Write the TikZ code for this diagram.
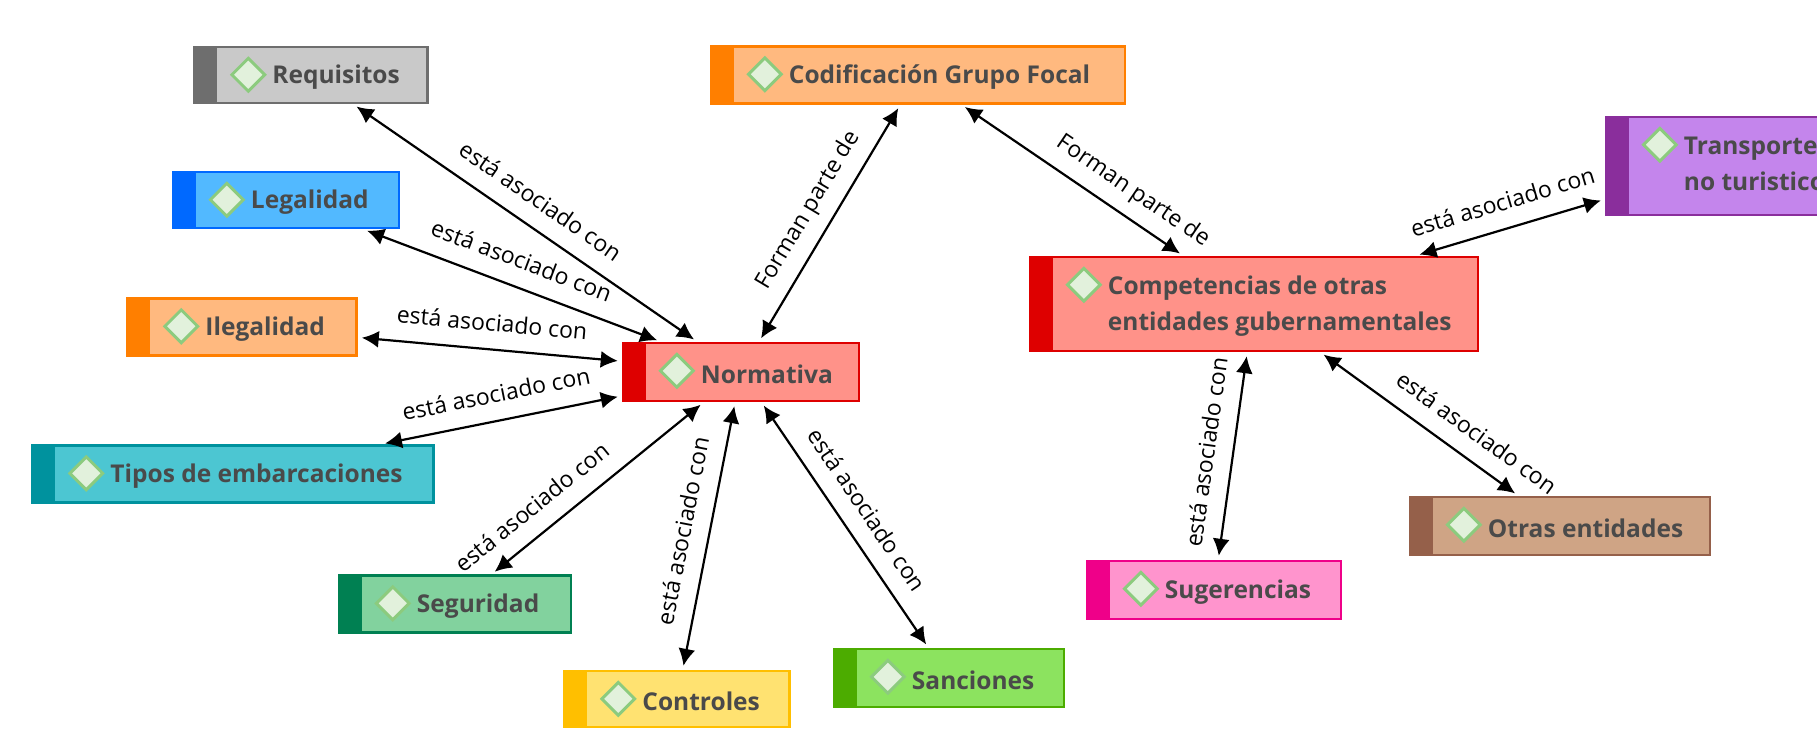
\documentclass[tikz,border=0pt]{standalone}
\usepackage{fontspec}
\setmainfont{Open Sans}
\usetikzlibrary{arrows.meta,shapes.geometric}
\definecolor{conceptgray}{HTML}{6E6E6E}  \definecolor{conceptgrayfill}{HTML}{C9C9C9}
\definecolor{conceptblue}{HTML}{0069FF}  \definecolor{conceptbluefill}{HTML}{52B9FF}
\definecolor{conceptorange}{HTML}{FF7F00} \definecolor{conceptorangefill}{HTML}{FFB97F}
\definecolor{conceptteal}{HTML}{00929E}  \definecolor{concepttealfill}{HTML}{4CC6D2}
\definecolor{conceptred}{HTML}{DE0000}   \definecolor{conceptredfill}{HTML}{FF9289}
\definecolor{conceptgreen}{HTML}{008052} \definecolor{conceptgreenfill}{HTML}{82D29E}
\definecolor{conceptyellow}{HTML}{FFBF00} \definecolor{conceptyellowfill}{HTML}{FFE271}
\definecolor{conceptlime}{HTML}{4CAC00}  \definecolor{conceptlimefill}{HTML}{8CE35F}
\definecolor{conceptpurple}{HTML}{8A2E9C} \definecolor{conceptpurplefill}{HTML}{C485EC}
\definecolor{conceptbrown}{HTML}{95604A} \definecolor{conceptbrownfill}{HTML}{CFA485}
\definecolor{conceptpink}{HTML}{EF0089}  \definecolor{conceptpinkfill}{HTML}{FF94CD}
\definecolor{conceptink}{HTML}{4A4A4A}
\definecolor{markline}{HTML}{8CCB7E}     \definecolor{markfill}{HTML}{E2F1DC}
\tikzset{
  conceptbox/.style={rectangle, line width=2.5pt, inner sep=0pt},
  conceptmark/.style={diamond, aspect=1, inner sep=0pt, minimum width=34pt, minimum height=34pt,
    draw=markline, line width=3pt, fill=markfill},
  conceptlabel/.style={inner sep=0pt, align=left, text=conceptink,
    font=\bfseries\fontsize{24.5}{36}\selectfont},
  relation/.style={<->, >={Latex[length=17pt,width=17pt]}, line width=2.2pt, shorten >=4pt, shorten <=4pt},
  relationlabel/.style={midway, above=#1, sloped, inner sep=0pt, font=\fontsize{23}{26}\selectfont},
  relationlabel/.default=17pt
}
\begin{document}
\begin{tikzpicture}[x=1pt,y=-1pt]
    \newcommand{\concept}[8]{
        \node[conceptbox, draw=#6, fill=#7, minimum width=#4-2, minimum height=#5-2] (#1) at (#2,#3) {};
        \fill[#6] (#1.north west) rectangle ([xshift=24]#1.south west);
        \node[conceptmark] (#1mark) at ([shift={(55,29)}]#1.north west) {};
        \node[conceptlabel, anchor=west] (#1text) at ([shift={(79,2)}]#1.west) {#8};
    }
    \useasboundingbox (0,0) rectangle (1817,728);
    \clip (0,0) rectangle (1817,728);

    % concepts around the first hub
    \concept{normativa}{741}{372}{238}{60}{conceptred}{conceptredfill}{Normativa}
    \concept{requisitos}{311}{75}{235}{58}{conceptgray}{conceptgrayfill}{Requisitos}
    \concept{legalidad}{286}{200}{228}{58}{conceptblue}{conceptbluefill}{Legalidad}
    \concept{ilegalidad}{242}{327}{231}{59}{conceptorange}{conceptorangefill}{Ilegalidad}
    \concept{tipos}{233}{474}{403}{59}{conceptteal}{concepttealfill}{Tipos de embarcaciones}
    \concept{seguridad}{455}{604}{234}{59}{conceptgreen}{conceptgreenfill}{Seguridad}
    \concept{controles}{677}{699}{227}{58}{conceptyellow}{conceptyellowfill}{Controles}
    \concept{sanciones}{949}{678}{232}{60}{conceptlime}{conceptlimefill}{Sanciones}

    % concepts around the second hub
    \concept{codificacion}{918}{75}{416}{59}{conceptorange}{conceptorangefill}{Codificación Grupo Focal}
    \concept{competencias}{1254}{304}{450}{96}{conceptred}{conceptredfill}{Competencias de otras\\entidades gubernamentales}
    \begin{scope}[conceptlabel/.append style={yshift=4pt}]
    \concept{transporte}{1717}{166}{224}{100}{conceptpurple}{conceptpurplefill}{Transporte\\no turistico}
    \end{scope}
    \concept{otras}{1560}{526}{302}{60}{conceptbrown}{conceptbrownfill}{Otras entidades}
    \concept{sugerencias}{1214}{590}{256}{60}{conceptpink}{conceptpinkfill}{Sugerencias}

    % relations
    \draw[relation] (requisitos) -- (normativa) node[relationlabel] {está asociado con};
    \draw[relation] (legalidad) -- (normativa) node[relationlabel] {está asociado con};
    \draw[relation] (ilegalidad) -- (normativa) node[relationlabel] {está asociado con};
    \draw[relation] (tipos) -- (normativa) node[relationlabel] {está asociado con};
    \draw[relation] (seguridad) -- (normativa) node[relationlabel, pos=.27] {está asociado con};
    \draw[relation] (controles) -- (normativa) node[relationlabel] {está asociado con};
    \draw[relation] (normativa) -- (sanciones) node[relationlabel] {está asociado con};
    \draw[relation] (normativa) -- (codificacion) node[relationlabel=12pt] {Forman parte de};
    \draw[relation] (codificacion) -- (competencias) node[relationlabel=12pt, pos=.71] {Forman parte de};
    \draw[relation] (competencias) -- (transporte) node[relationlabel] {está asociado con};
    \draw[relation] (competencias) -- (otras) node[relationlabel, pos=.71] {está asociado con};
    \draw[relation] (sugerencias) -- (competencias) node[relationlabel] {está asociado con};
\end{tikzpicture}
\end{document}
